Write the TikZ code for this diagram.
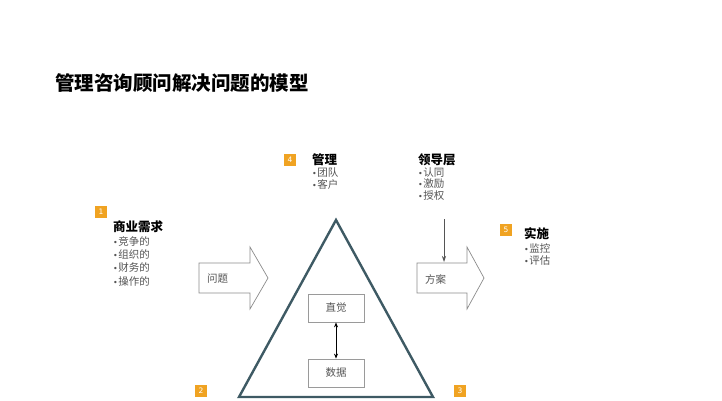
\documentclass[tikz,border=0pt]{standalone}
\usepackage{fontspec}
\newfontfamily\cjk{Noto Sans CJK SC}
\newfontfamily\dvs{DejaVu Sans}
\usetikzlibrary{arrows.meta}
\definecolor{badgeor}{HTML}{F0A322}
\definecolor{triline}{HTML}{3E5A64}
\definecolor{boxline}{HTML}{9A9A9A}
\definecolor{arrline}{HTML}{8C8C8C}
\definecolor{txtgrey}{HTML}{555555}
\newcommand{\bul}{{\dvs\fontsize{8}{8}\selectfont •}\kern0.5pt}
\begin{document}
\begin{tikzpicture}[x=1pt,y=-1pt,
  badge/.style={fill=badgeor,text=white,minimum size=12pt,inner sep=0pt,font=\dvs\fontsize{7.5}{8}\selectfont},
  headtxt/.style={anchor=west,inner sep=0pt,font=\cjk\bfseries\fontsize{12.5}{13}\selectfont,text=black},
  bullet/.style={anchor=west,inner sep=0pt,font=\cjk\fontsize{10.5}{11}\selectfont,text=txtgrey},
  innerbox/.style={draw=boxline,line width=0.8pt,minimum width=56pt,minimum height=28pt,inner sep=0pt,font=\cjk\fontsize{10.5}{11}\selectfont,text=txtgrey},
  blockarr/.style={draw=arrline,line width=0.7pt,fill=white},
  arrtxt/.style={inner sep=0pt,font=\cjk\fontsize{10.5}{11}\selectfont,text=txtgrey}
]
\useasboundingbox (0,0) rectangle (722,400);
\fill[white] (0,0) rectangle (722,400);

% title
\node[anchor=west,inner sep=0pt,font=\cjk\bfseries\fontsize{19.5}{20}\selectfont] (title) at (55,83) {管理咨询顾问解决问题的模型};

% triangle
\draw[triline,line width=2.4pt,line join=miter] (336,220) -- (433,397) -- (239,397) -- cycle;

% inner boxes
\node[innerbox] (zj) at (336,308) {直觉};
\node[innerbox] (sj) at (336,373) {数据};
\draw[{Stealth[length=5pt,width=4pt]}-{Stealth[length=5pt,width=4pt]},line width=0.8pt,black] (zj.south) -- (sj.north);

% left block arrow
\draw[blockarr] (199,263) -- (250,263) -- (250,247) -- (268,278) -- (250,309) -- (250,293) -- (199,293) -- cycle;
\node[arrtxt,anchor=west] (wt) at (207,279) {问题};

% right block arrow
\draw[blockarr] (417,263) -- (467,263) -- (467,247) -- (484,278) -- (467,309) -- (467,293) -- (417,293) -- cycle;
\node[arrtxt,anchor=west] (fa) at (425,279) {方案};
\coordinate (dtop) at (444,219);
\coordinate (dbot) at (444,262);
\draw[-{Stealth[length=6pt,width=4pt]},draw=txtgrey,fill=txtgrey,line width=0.7pt] (dtop) -- (dbot);

% badges
\node[badge] (b1) at (101,212) {1};
\node[badge] (b2) at (201,391) {2};
\node[badge] (b3) at (460,391) {3};
\node[badge] (b4) at (290,160) {4};
\node[badge] (b5) at (506,230) {5};

% group 1
\node[headtxt] (h1) at (113,227) {商业需求};
\node[bullet] (h1a) at (113,241) {\bul 竞争的};
\node[bullet] (h1b) at (113,254) {\bul 组织的};
\node[bullet] (h1c) at (113,267.5) {\bul 财务的};
\node[bullet] (h1d) at (113,281) {\bul 操作的};

% group 4
\node[headtxt] (h4) at (312,160) {管理};
\node[bullet] (h4a) at (312,172.5) {\bul 团队};
\node[bullet] (h4b) at (312,184) {\bul 客户};

% leadership
\node[headtxt] (hl) at (418,160) {领导层};
\node[bullet] (hla) at (418,172.5) {\bul 认同};
\node[bullet] (hlb) at (418,184) {\bul 激励};
\node[bullet] (hlc) at (418,195.5) {\bul 授权};

% group 5
\node[headtxt] (h5) at (524,234) {实施};
\node[bullet] (h5a) at (524,248) {\bul 监控};
\node[bullet] (h5b) at (524,261) {\bul 评估};
\end{tikzpicture}
\end{document}
